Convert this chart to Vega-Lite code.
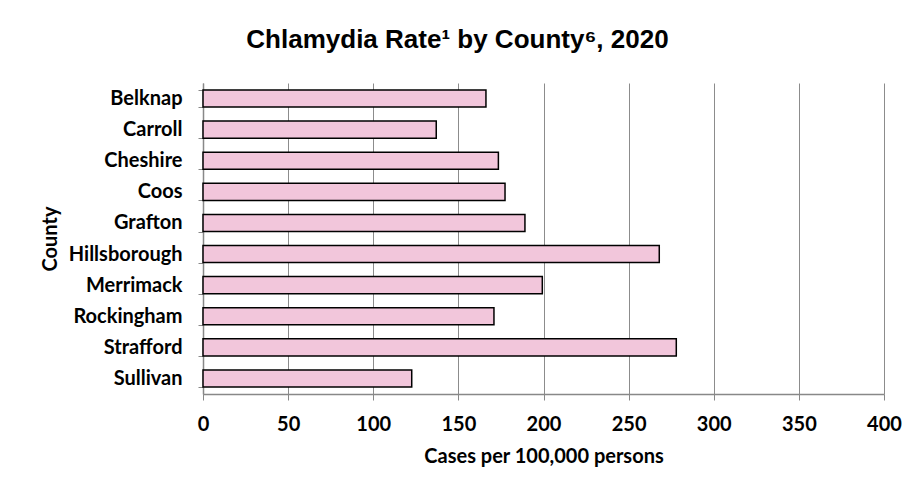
{
  "$schema": "https://vega.github.io/schema/vega-lite/v6.json",
  "autosize": {"type": "none"},
  "width": 681,
  "height": 311,
  "padding": {"left": 203, "top": 83, "right": 31, "bottom": 97},
  "background": "white",
  "title": {
    "text": "Chlamydia Rate¹ by County⁶, 2020",
    "font": "Liberation Sans",
    "fontSize": 26,
    "fontWeight": "bold",
    "color": "black",
    "anchor": "middle",
    "dx": -86,
    "offset": -1,
    "baseline": "alphabetic"
  },
  "data": {
    "values": [
      {"County": "Belknap", "Rate": 166.2},
      {"County": "Carroll", "Rate": 137.0},
      {"County": "Cheshire", "Rate": 173.5},
      {"County": "Coos", "Rate": 177.4},
      {"County": "Grafton", "Rate": 189.1},
      {"County": "Hillsborough", "Rate": 268.0},
      {"County": "Merrimack", "Rate": 199.3},
      {"County": "Rockingham", "Rate": 170.9},
      {"County": "Strafford", "Rate": 278.0},
      {"County": "Sullivan", "Rate": 122.6}
    ]
  },
  "mark": {"type": "bar", "fill": "#F2C6DB", "stroke": "black", "strokeWidth": 1.5},
  "encoding": {
    "y": {
      "field": "County",
      "type": "nominal",
      "sort": null,
      "scale": {"paddingInner": 0.45, "paddingOuter": 0.225},
      "axis": {
        "title": "County",
        "titleFont": "Lato",
        "titleFontSize": 20,
        "titleFontWeight": "bold",
        "titleColor": "black",
        "titlePadding": 8,
        "labelFont": "Lato",
        "labelFontSize": 20,
        "labelFontWeight": "bold",
        "labelColor": "black",
        "labelPadding": 16,
        "tickBand": "extent",
        "tickSize": 5,
        "tickColor": "#888888",
        "domainColor": "#888888",
        "domainWidth": 1.5,
        "grid": false
      }
    },
    "x": {
      "field": "Rate",
      "type": "quantitative",
      "scale": {"domain": [0, 400], "nice": false},
      "axis": {
        "values": [0, 50, 100, 150, 200, 250, 300, 350, 400],
        "title": "Cases per 100,000 persons",
        "titleFont": "Lato",
        "titleFontSize": 20,
        "titleFontWeight": "bold",
        "titleColor": "black",
        "titlePadding": 12,
        "labelFont": "Lato",
        "labelFontSize": 20,
        "labelFontWeight": "bold",
        "labelColor": "black",
        "labelPadding": 14,
        "labelFlush": false,
        "tickSize": 6,
        "tickColor": "#888888",
        "domainColor": "#888888",
        "domainWidth": 1.5,
        "grid": true,
        "gridColor": "#8c8c8c",
        "gridWidth": 1
      }
    }
  },
  "config": {"view": {"stroke": null}}
}
